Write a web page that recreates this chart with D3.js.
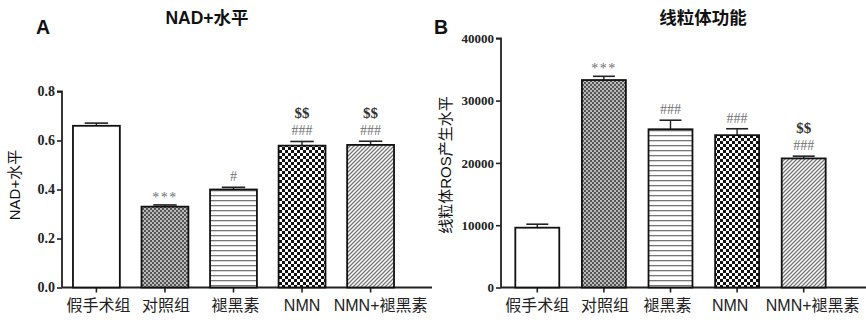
<!DOCTYPE html>
<html><head><meta charset="utf-8">
<script src="https://cdn.jsdelivr.net/npm/d3@7"></script>
<style>body{margin:0;background:#fff}svg{display:block}</style>
</head><body>
<svg id="c" width="866" height="325"></svg>
<script>
const categories = ["假手术组","对照组","褪黑素","NMN","NMN+褪黑素"];
const nadValues = [0.66, 0.33, 0.40, 0.579, 0.582];
const nadErrors = [0.011, 0.007, 0.009, 0.017, 0.015];
const nadAnnot = [[], ["***"], ["#"], ["###","$$"], ["###","$$"]];
const nadTicks = [0.0, 0.2, 0.4, 0.6, 0.8];
const rosValues = [9600, 33300, 25400, 24450, 20720];
const rosErrors = [560, 600, 1450, 1030, 360];
const rosAnnot = [[], ["***"], ["###"], ["###"], ["###","$$"]];
const rosTicks = [0, 10000, 20000, 30000, 40000];
const patterns = ["none","fine","hlines","checker","diag"];

const svg = d3.select("#c");
const defs = svg.append("defs");
let p = defs.append("pattern").attr("id","fine").attr("patternUnits","userSpaceOnUse").attr("width",4).attr("height",4);
p.append("rect").attr("width",4).attr("height",4).attr("fill","#555");
p.append("rect").attr("width",2).attr("height",2).attr("fill","#bbb");
p.append("rect").attr("x",2).attr("y",2).attr("width",2).attr("height",2).attr("fill","#bbb");
p = defs.append("pattern").attr("id","hlines").attr("patternUnits","userSpaceOnUse").attr("width",6).attr("height",5);
p.append("rect").attr("width",6).attr("height",5).attr("fill","#fff");
p.append("rect").attr("y",0).attr("width",6).attr("height",1.3).attr("fill","#777");
p = defs.append("pattern").attr("id","checker").attr("patternUnits","userSpaceOnUse").attr("width",6).attr("height",6);
p.append("rect").attr("width",6).attr("height",6).attr("fill","#111");
p.append("rect").attr("width",3).attr("height",3).attr("fill","#fff");
p.append("rect").attr("x",3).attr("y",3).attr("width",3).attr("height",3).attr("fill","#fff");
p = defs.append("pattern").attr("id","diag").attr("patternUnits","userSpaceOnUse").attr("width",4).attr("height",4);
p.append("rect").attr("width",4).attr("height",4).attr("fill","#fff");
p.append("path").attr("d","M-1,1 l2,-2 M0,4 l4,-4 M3,5 l2,-2").attr("stroke","#777").attr("stroke-width",1.3);

const serif = "'Liberation Serif','DejaVu Serif',serif";
const sans = "'Liberation Sans','Noto Sans CJK SC',sans-serif";

function panel(o){
  const g = svg.append("g");
  const x = d3.scaleBand().domain(categories).range([o.bx0, o.bx1]).paddingInner(o.pi).paddingOuter(o.po);
  const y = d3.scaleLinear().domain(o.domain).range([o.y0, o.y1]);
  const yAxis = g.append("g").attr("transform",`translate(${o.x0},0)`)
    .call(d3.axisLeft(y).tickValues(o.ticks).tickFormat(o.fmt).tickSize(5).tickPadding(2));
  yAxis.selectAll("text").attr("font-family",serif).attr("font-weight","bold").attr("font-size",o.tfs).attr("fill","#222");
  const xAxis = g.append("g").attr("transform",`translate(0,${o.y0})`)
    .call(d3.axisBottom(x).tickSize(5).tickPadding(7));
  xAxis.selectAll("text").attr("font-family",sans).attr("font-size",16).attr("fill","#222")
    .attr("dx",(d,i)=>o.ldx[i]);
  g.selectAll(".domain").attr("stroke","#222").attr("stroke-width",1.8);
  g.selectAll(".tick line").attr("stroke","#222").attr("stroke-width",1.6);
  yAxis.select(".domain").attr("d",`M-5,${o.y1}H0V${o.y0}`);
  xAxis.select(".domain").attr("d",`M${o.x0},0H${o.x1}`);
  const bw = x.bandwidth();
  o.values.forEach((v,i)=>{
    const cx = x(categories[i]) + bw/2;
    const yt = y(v + o.errors[i]);
    g.append("line").attr("x1",cx).attr("x2",cx).attr("y1",y(v)).attr("y2",yt).attr("stroke","#222").attr("stroke-width",1.4);
    g.append("line").attr("x1",cx-bw*0.25).attr("x2",cx+bw*0.25).attr("y1",yt).attr("y2",yt).attr("stroke","#222").attr("stroke-width",1.6);
  });
  g.selectAll("rect.bar").data(o.values).join("rect").attr("class","bar")
    .attr("x",(d,i)=>x(categories[i])).attr("width",bw)
    .attr("y",d=>y(d)).attr("height",d=>o.y0-y(d))
    .attr("fill",(d,i)=>patterns[i]==="none"?"#fff":`url(#${patterns[i]})`)
    .attr("stroke","#111").attr("stroke-width",1.8);
  o.annot.forEach((arr,i)=>{
    const cx = x(categories[i]) + bw/2;
    const base = y(o.values[i] + o.errors[i]);
    arr.forEach((t,j)=>{
      const isStar = t==="***";
      g.append("text").attr("x",cx).attr("y",base - 6 - j*17 + (isStar?3:0))
        .attr("text-anchor","middle").attr("font-family",serif)
        .attr("font-weight", t==="$$"?"bold":"normal")
        .attr("font-size", t==="$$"?15:14).attr("fill", t==="$$"?"#333":"#707070")
        .attr("letter-spacing", isStar?"1.5px":"0px")
        .text(t);
    });
  });
  g.append("text").attr("x",o.tx).attr("y",24).attr("text-anchor","middle")
    .attr("font-family",sans).attr("font-weight","bold").attr("font-size",17.5).attr("fill","#111").text(o.title);
  g.append("text").attr("x",o.lx).attr("y",34).attr("text-anchor","middle")
    .attr("font-family",sans).attr("font-weight","bold").attr("font-size",19.5).attr("fill","#111").text(o.letter);
  g.append("text").attr("transform",`translate(${o.ylx},${o.yly}) rotate(-90)`).attr("text-anchor","middle")
    .attr("font-family",sans).attr("font-size",15).attr("fill","#111").text(o.ylabel);
}

panel({x0:62,x1:432,bx0:62,bx1:405,y0:287.5,y1:91.5,domain:[0,0.8],pi:0.316,po:0.16,ticks:nadTicks,fmt:d3.format(".1f"),tfs:14,
  ldx:[2,1,2,0,10],
  values:nadValues,errors:nadErrors,annot:nadAnnot,title:"NAD+水平",tx:207,letter:"A",lx:43,ylabel:"NAD+水平",ylx:20,yly:185});
panel({x0:501,x1:866,bx0:501,bx1:840,y0:287.5,y1:38.3,domain:[0,40000],pi:0.34,po:0.215,ticks:rosTicks,fmt:d3.format("d"),tfs:13,
  ldx:[0,1,-3,-7,9],
  values:rosValues,errors:rosErrors,annot:rosAnnot,title:"线粒体功能",tx:703,letter:"B",lx:441,ylabel:"线粒体ROS产生水平",ylx:451,yly:165});
</script>
</body></html>
